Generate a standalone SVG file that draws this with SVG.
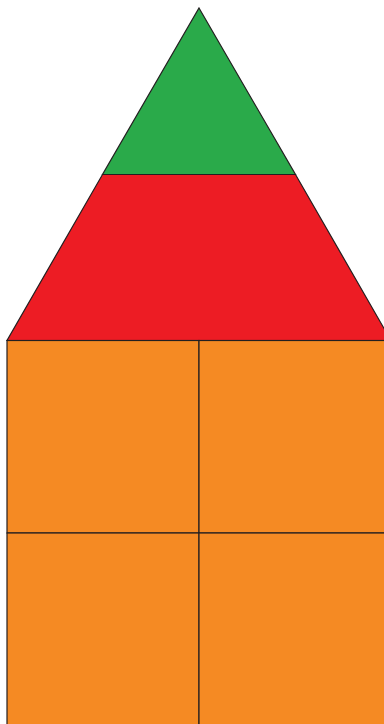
<svg xmlns="http://www.w3.org/2000/svg" width="384" height="724" viewBox="0 0 384 724">
<style>
.s{stroke:#231F20;stroke-width:1.2;stroke-linejoin:miter}
.g{fill:#2AAA4A}
.r{fill:#ED1C24}
.o{fill:#F58A23}
</style>
<rect width="384" height="724" fill="#FFFFFF"/>
<g id="roof-top"><polygon class="s g" points="199,8 295.5,174.5 102.5,174.5"/></g>
<g id="roof-bottom"><polygon class="s r" points="102.5,174.5 295.5,174.5 391,340.5 7,340.5"/></g>
<g id="wall-tl"><rect class="s o" x="7" y="340.5" width="192" height="192.5"/></g>
<g id="wall-tr"><rect class="s o" x="199" y="340.5" width="192" height="192.5"/></g>
<g id="wall-bl"><rect class="s o" x="7" y="533" width="192" height="192"/></g>
<g id="wall-br"><rect class="s o" x="199" y="533" width="192" height="192"/></g>
</svg>
